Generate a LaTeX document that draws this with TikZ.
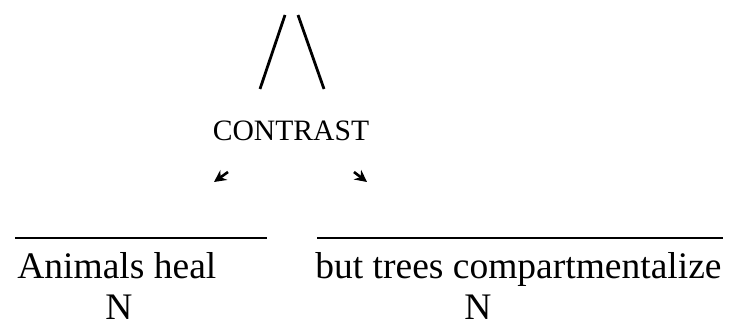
\documentclass[tikz,border=0pt]{standalone}
\usepackage{fontspec}
\setmainfont{Liberation Serif}
\usetikzlibrary{arrows.meta}

\begin{document}
\begin{tikzpicture}[x=0.5pt, y=-0.5pt, font=\fontsize{18.75}{22}\selectfont,
    seg/.style={anchor=base west, inner sep=0pt},
    nuc/.style={anchor=base, inner sep=0pt},
    span/.style={line width=1pt},
    rel/.style={-{Stealth[length=6pt,width=6pt]}, line width=1.3pt}]
    \useasboundingbox (0,0) rectangle (732,326);
    \coordinate (lt) at (285,15);
    \coordinate (lb) at (260,89);
    \coordinate (rt) at (298,15);
    \coordinate (rb) at (324,89);
    \draw[line width=1.4pt] (lt) -- (lb);
    \draw[line width=1.4pt] (rt) -- (rb);
    \node[nuc, font=\fontsize{14.8}{17}\selectfont] (contrast) at (291,140) {CONTRAST};
    \coordinate (la) at (228,172);
    \coordinate (lh) at (214,182);
    \coordinate (ra) at (354,172);
    \coordinate (rh) at (367,182);
    \draw[rel] (la) -- (lh);
    \draw[rel] (ra) -- (rh);
    \foreach \a/\b/\t/\txt/\nx/\id in {
      15/267/17/Animals heal/119/l,
      317/723/315/but trees compartmentalize/478/r}{
      \coordinate (s\id) at (\a,238);
      \coordinate (e\id) at (\b,238);
      \draw[span] (s\id) -- (e\id);
      \node[seg] (txt\id) at (\t,278) {\txt};
      \node[nuc] (n\id) at (\nx,319) {N};
    }
\end{tikzpicture}
\end{document}
